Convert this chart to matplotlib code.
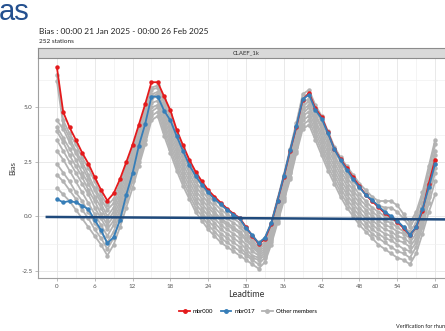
import numpy as np
import matplotlib
matplotlib.use("Agg")
import matplotlib.pyplot as plt
from matplotlib.lines import Line2D

plt.rcParams['font.family'] = ['Lato', 'DejaVu Sans']

leadtime = np.arange(0, 61)

mbr000 = [6.83, 4.78, 4.08, 3.51, 2.92, 2.41, 1.79, 1.21, 0.72,
          1.05, 1.70, 2.48, 3.28, 4.20, 5.14, 6.15, 6.15,
          5.50, 4.86, 3.97, 3.26, 2.60, 2.05, 1.60, 1.20, 0.90, 0.62, 0.35, 0.12, -0.08, -0.50, -0.90, -1.27,
          -1.05, -0.35, 0.72, 1.80, 3.00, 4.10, 5.35, 5.66,
          4.95, 4.55, 3.85, 3.10, 2.62, 2.20, 1.78, 1.38, 0.98, 0.70, 0.42, 0.15, -0.05, -0.25, -0.55, -0.86,
          -0.50, 0.25, 1.50, 2.60]

mbr017 = [0.79, 0.64, 0.70, 0.64, 0.49, 0.32, -0.17, -0.63, -1.24,
          -0.96, -0.17, 0.98, 1.97, 3.24, 4.23, 5.49, 5.49,
          4.85, 4.40, 3.68, 3.00, 2.35, 1.85, 1.45, 1.10, 0.80, 0.55, 0.30, 0.08, -0.10, -0.55, -0.86, -1.24,
          -0.98, -0.32, 0.72, 1.85, 3.02, 4.15, 5.37, 5.58,
          4.88, 4.48, 3.81, 3.08, 2.58, 2.14, 1.70, 1.33, 0.98, 0.75, 0.47, 0.21, 0.01, -0.20, -0.50, -0.86,
          -0.48, 0.32, 1.33, 2.40]

other_members = [
    [6.5, 4.4, 3.8, 3.3, 2.7, 2.2, 1.6, 1.0, 0.5,
     0.8, 1.5, 2.3, 3.1, 4.0, 4.9, 5.9, 6.0,
     5.4, 4.7, 3.9, 3.2, 2.5, 2.0, 1.5, 1.1, 0.8, 0.5, 0.3, 0.1, -0.1, -0.5, -0.9, -1.2,
     -1.0, -0.3, 0.8, 1.9, 3.1, 4.3, 5.6, 5.8,
     5.1, 4.6, 3.9, 3.2, 2.7, 2.3, 1.9, 1.5, 1.2, 0.9, 0.7, 0.7, 0.7, 0.5, 0.1, -0.3,
     0.2, 1.1, 2.3, 3.5],
    [6.2, 4.2, 3.6, 3.0, 2.5, 1.9, 1.3, 0.8, 0.3,
     0.6, 1.3, 2.1, 2.9, 3.8, 4.8, 5.8, 5.9,
     5.2, 4.5, 3.7, 3.0, 2.4, 1.8, 1.4, 1.0, 0.6, 0.3, 0.1, -0.1, -0.3, -0.7, -1.1, -1.4,
     -1.2, -0.5, 0.6, 1.7, 2.9, 4.1, 5.4, 5.6,
     4.9, 4.3, 3.7, 3.0, 2.5, 2.0, 1.6, 1.3, 1.0, 0.7, 0.5, 0.4, 0.4, 0.2, -0.1, -0.5,
     0.0, 0.9, 2.1, 3.3],
    [4.4, 4.0, 3.4, 2.9, 2.3, 1.7, 1.2, 0.6, 0.0,
     0.4, 1.1, 1.9, 2.8, 3.7, 4.6, 5.6, 5.7,
     5.0, 4.3, 3.5, 2.8, 2.2, 1.6, 1.2, 0.8, 0.4, 0.1, -0.1, -0.3, -0.5, -0.8, -1.2, -1.5,
     -1.3, -0.6, 0.5, 1.6, 2.7, 3.9, 5.2, 5.4,
     4.7, 4.1, 3.5, 2.8, 2.3, 1.8, 1.4, 1.0, 0.7, 0.4, 0.2, 0.0, -0.1, -0.3, -0.5, -0.7,
     -0.3, 0.6, 1.8, 3.0],
    [4.1, 3.6, 3.1, 2.6, 2.0, 1.5, 0.9, 0.4, -0.2,
     0.2, 0.9, 1.7, 2.6, 3.5, 4.5, 5.5, 5.6,
     4.9, 4.1, 3.3, 2.6, 2.0, 1.4, 1.0, 0.6, 0.2, -0.1, -0.3, -0.5, -0.7, -1.0, -1.3, -1.6,
     -1.4, -0.7, 0.3, 1.4, 2.6, 3.8, 5.0, 5.3,
     4.6, 4.0, 3.3, 2.7, 2.1, 1.6, 1.2, 0.8, 0.5, 0.2, 0.0, -0.2, -0.3, -0.5, -0.7, -0.9,
     -0.5, 0.4, 1.6, 2.8],
    [3.9, 3.4, 2.8, 2.3, 1.8, 1.2, 0.7, 0.1, -0.4,
     0.0, 0.7, 1.5, 2.4, 3.3, 4.3, 5.4, 5.5,
     4.7, 3.9, 3.1, 2.4, 1.8, 1.2, 0.8, 0.4, 0.1, -0.2, -0.4, -0.6, -0.8, -1.1, -1.4, -1.7,
     -1.5, -0.8, 0.2, 1.3, 2.4, 3.6, 4.9, 5.1,
     4.4, 3.8, 3.1, 2.5, 1.9, 1.4, 1.0, 0.6, 0.3, 0.0, -0.2, -0.4, -0.5, -0.7, -0.8, -1.0,
     -0.6, 0.3, 1.5, 2.6],
    [3.5, 3.0, 2.5, 2.0, 1.5, 1.0, 0.4, -0.1, -0.6,
     -0.2, 0.5, 1.3, 2.2, 3.1, 4.1, 5.2, 5.3,
     4.5, 3.7, 2.9, 2.2, 1.6, 1.0, 0.6, 0.2, -0.1, -0.4, -0.6, -0.8, -1.0, -1.3, -1.6, -1.8,
     -1.6, -0.9, 0.1, 1.1, 2.3, 3.5, 4.7, 5.0,
     4.3, 3.6, 2.9, 2.3, 1.7, 1.2, 0.8, 0.4, 0.1, -0.2, -0.4, -0.6, -0.7, -0.9, -1.0, -1.2,
     -0.8, 0.1, 1.3, 2.4],
    [3.0, 2.6, 2.1, 1.6, 1.1, 0.6, 0.1, -0.4, -0.9,
     -0.4, 0.3, 1.1, 2.0, 2.9, 3.9, 5.0, 5.1,
     4.3, 3.5, 2.7, 2.0, 1.4, 0.8, 0.4, 0.0, -0.3, -0.6, -0.8, -1.0, -1.2, -1.5, -1.8, -1.9,
     -1.7, -1.0, 0.0, 1.0, 2.1, 3.3, 4.6, 4.8,
     4.1, 3.4, 2.7, 2.1, 1.5, 1.0, 0.6, 0.2, -0.1, -0.4, -0.6, -0.8, -0.9, -1.1, -1.2, -1.4,
     -1.0, -0.1, 1.1, 2.2],
    [2.4, 2.0, 1.6, 1.1, 0.7, 0.2, -0.3, -0.7, -1.2,
     -0.7, 0.1, 0.9, 1.8, 2.7, 3.7, 4.8, 5.0,
     4.1, 3.3, 2.5, 1.8, 1.2, 0.6, 0.2, -0.2, -0.5, -0.8, -1.0, -1.2, -1.4, -1.7, -1.9, -2.0,
     -1.8, -1.1, -0.1, 0.9, 2.0, 3.2, 4.4, 4.6,
     3.9, 3.2, 2.5, 1.9, 1.3, 0.8, 0.4, 0.0, -0.3, -0.6, -0.8, -1.0, -1.1, -1.3, -1.5, -1.6,
     -1.2, -0.3, 0.9, 2.0],
    [1.9, 1.6, 1.2, 0.8, 0.3, -0.1, -0.6, -1.0, -1.5,
     -1.0, -0.2, 0.7, 1.6, 2.5, 3.5, 4.6, 4.8,
     3.9, 3.1, 2.3, 1.6, 1.0, 0.4, 0.0, -0.4, -0.7, -1.0, -1.2, -1.4, -1.6, -1.8, -2.0, -2.2,
     -1.9, -1.2, -0.2, 0.8, 1.8, 3.0, 4.2, 4.4,
     3.7, 3.0, 2.3, 1.7, 1.1, 0.6, 0.2, -0.2, -0.5, -0.8, -1.0, -1.2, -1.4, -1.6, -1.7, -1.9,
     -1.4, -0.5, 0.6, 1.6],
    [1.3, 1.0, 0.7, 0.3, -0.1, -0.5, -0.9, -1.3, -1.8,
     -1.3, -0.5, 0.4, 1.3, 2.3, 3.3, 4.4, 4.6,
     3.7, 2.9, 2.1, 1.4, 0.8, 0.2, -0.2, -0.6, -0.9, -1.2, -1.4, -1.6, -1.8, -2.0, -2.2, -2.4,
     -2.1, -1.3, -0.3, 0.7, 1.7, 2.9, 4.0, 4.2,
     3.5, 2.8, 2.1, 1.5, 0.9, 0.4, 0.0, -0.4, -0.7, -1.0, -1.3, -1.5, -1.7, -1.9, -2.0, -2.2,
     -1.7, -0.8, 0.2, 1.0],
]

# trend line drawn across the panel
trend_x = [-1.6, 63]
trend_y = [-0.03, -0.145]

red = '#e41a1c'
blue = '#377eb8'
grey = '#b3b3b3'

fig = plt.figure(figsize=(4.45, 3.31), dpi=100)
W, H = 445, 331

def fx(px):
    return px / W

def fy(py):
    return 1 - py / H

ax = fig.add_axes([fx(38), fy(278), fx(454 - 38), (278 - 58) / H])

for m in other_members:
    ax.plot(leadtime, m, color=grey, lw=1.3, marker='o', ms=2.2, zorder=2)
ax.plot(leadtime, mbr000, color=red, lw=1.3, marker='o', ms=2.2, zorder=3)
ax.plot(leadtime, mbr017, color=blue, lw=1.3, marker='o', ms=2.2, zorder=4)
ax.plot(trend_x, trend_y, color='#1f4a7c', lw=1.8, zorder=5)

ax.set_xlim(-3, 63)
ax.set_ylim(-2.83, 7.26)
ax.set_xticks(np.arange(0, 61, 6))
ax.set_xticks(np.arange(3, 61, 6), minor=True)
ax.set_yticks([-2.5, 0.0, 2.5, 5.0])
ax.set_yticklabels(['-2.5', '0.0', '2.5', '5.0'])
ax.set_yticks([-1.25, 1.25, 3.75, 6.25], minor=True)
ax.grid(True, which='major', color='#e5e5e5', lw=0.6)
ax.grid(True, which='minor', color='#f0f0f0', lw=0.5)
ax.set_axisbelow(True)
for s in ['top', 'right']:
    ax.spines[s].set_visible(False)
for s in ['left', 'bottom']:
    ax.spines[s].set_color('#a0a0a0')
    ax.spines[s].set_linewidth(0.8)
ax.tick_params(which='major', length=2, width=0.5, color='#a0a0a0',
               labelsize=4.5, labelcolor='#555555', pad=2)
ax.tick_params(which='minor', length=0)
ax.set_xlabel('Leadtime', fontsize=6.5, color='#333333', labelpad=1)
ax.set_ylabel('Bias', fontsize=5.5, color='#333333', labelpad=4)

# facet strip
strip = fig.add_axes([fx(38), fy(57.5), fx(454 - 38), 10 / H])
strip.set_facecolor('#d9d9d9')
strip.set_xticks([])
strip.set_yticks([])
for s in strip.spines.values():
    s.set_color('#8c8c8c')
    s.set_linewidth(0.8)
strip.text(0.5, 0.5, 'CLAEF_1k', ha='center', va='center', fontsize=4.3,
           color='#333333', transform=strip.transAxes)

fig.text(fx(39), fy(33.5), 'Bias : 00:00 21 Jan 2025 - 00:00 26 Feb 2025',
         fontsize=6.0, color='#222222', ha='left', va='baseline')
fig.text(fx(39), fy(43), '252 stations', fontsize=4.6, color='#222222',
         ha='left', va='baseline')
fig.text(fx(-1), fy(20), 'as', fontsize=21, color='#24508f',
         ha='left', va='baseline', family=['Liberation Sans', 'DejaVu Sans'])
fig.text(fx(396), fy(328), 'Verification for rhum', fontsize=4.0,
         color='#222222', ha='left', va='baseline')

handles = [
    Line2D([], [], color=red, lw=1.3, marker='o', ms=2.5),
    Line2D([], [], color=blue, lw=1.3, marker='o', ms=2.5),
    Line2D([], [], color=grey, lw=1.3, marker='o', ms=2.5),
]
fig.legend(handles, ['mbr000', 'mbr017', 'Other members'], loc='center',
           bbox_to_anchor=(fx(248), fy(311)), ncol=3, frameon=False,
           fontsize=4.3, handlelength=1.8, columnspacing=1.2, handletextpad=0.5)

fig.savefig('out.png', dpi=100)
